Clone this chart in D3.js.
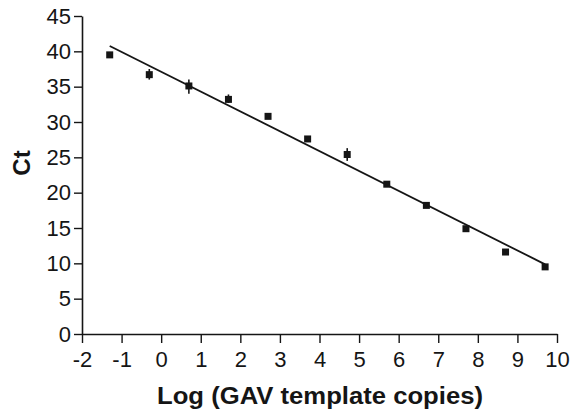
<!DOCTYPE html>
<html><head><meta charset="utf-8">
<script src="https://cdn.jsdelivr.net/npm/d3@7"></script>
<style>html,body{margin:0;padding:0;background:#fff;}svg{display:block;}</style>
</head><body>
<svg id="c" width="570" height="413"></svg>
<script>
const logCopies = [-1.3, -0.3, 0.7, 1.7, 2.7, 3.7, 4.7, 5.7, 6.7, 7.7, 8.7, 9.7];
const ctValues  = [39.5, 36.7, 35.1, 33.2, 30.8, 27.6, 25.4, 21.2, 18.2, 14.9, 11.6, 9.5];
const ctErrLow  = [39.5, 36.0, 34.0, 32.7, 30.8, 27.6, 24.5, 21.2, 18.2, 14.9, 11.6, 9.5];
const ctErrHigh = [39.5, 37.5, 36.0, 33.9, 30.8, 27.6, 26.3, 21.2, 18.2, 14.9, 11.6, 9.5];
const xTicks = [-2,-1,0,1,2,3,4,5,6,7,8,9,10];
const yTicks = [0,5,10,15,20,25,30,35,40,45];

const svg = d3.select("#c");
const x = d3.scaleLinear().domain([-2,10]).range([82,557]);
const y = d3.scaleLinear().domain([0,45]).range([334,16]);
const ink = "#151515";
const font = "Liberation Sans, Arial, sans-serif";
const fmt = d => String(d);

const xa = svg.append("g").attr("transform","translate(0,334)")
  .call(d3.axisBottom(x).tickValues(xTicks).tickSize(9).tickSizeOuter(0).tickPadding(8).tickFormat(fmt));
const ya = svg.append("g").attr("transform","translate(82,0)")
  .call(d3.axisLeft(y).tickValues(yTicks).tickSize(8).tickSizeOuter(0).tickPadding(3).tickFormat(fmt));
[xa,ya].forEach(g=>{
  g.select(".domain").attr("stroke",ink).attr("stroke-width",1.6);
  g.selectAll(".tick line").attr("stroke",ink).attr("stroke-width",1.4);
  g.selectAll(".tick text").attr("fill",ink).style("font-family",font).style("font-size","22px");
});

// regression line fitted to the data
const n = logCopies.length;
const mx = d3.mean(logCopies), my = d3.mean(ctValues);
let sxy=0, sxx=0;
for(let i=0;i<n;i++){sxy+=(logCopies[i]-mx)*(ctValues[i]-my); sxx+=(logCopies[i]-mx)**2;}
const slope = sxy/sxx, icpt = my - slope*mx;
const x0 = d3.min(logCopies), x1 = d3.max(logCopies);
svg.append("line")
  .attr("x1",x(x0)).attr("y1",y(icpt+slope*x0))
  .attr("x2",x(x1)).attr("y2",y(icpt+slope*x1))
  .attr("stroke",ink).attr("stroke-width",1.8);

// error bars
svg.append("g").selectAll("line").data(logCopies).join("line")
  .attr("x1",d=>x(d)).attr("x2",d=>x(d))
  .attr("y1",(d,i)=>y(ctErrLow[i])).attr("y2",(d,i)=>y(ctErrHigh[i]))
  .attr("stroke",ink).attr("stroke-width",1.6);

// markers
svg.append("g").selectAll("rect").data(logCopies).join("rect")
  .attr("x",d=>x(d)-3.5).attr("y",(d,i)=>y(ctValues[i])-3.5)
  .attr("width",7).attr("height",7).attr("fill",ink);

svg.append("text").attr("x",320).attr("y",404).attr("text-anchor","middle")
  .attr("textLength",326).attr("lengthAdjust","spacingAndGlyphs")
  .style("font-family",font).style("font-weight","bold").style("font-size","23px")
  .attr("fill",ink).text("Log (GAV template copies)");
svg.append("text").attr("transform","translate(30,163) rotate(-90)").attr("text-anchor","middle")
  .style("font-family",font).style("font-weight","bold").style("font-size","24px")
  .attr("fill",ink).text("Ct");
</script>
</body></html>
